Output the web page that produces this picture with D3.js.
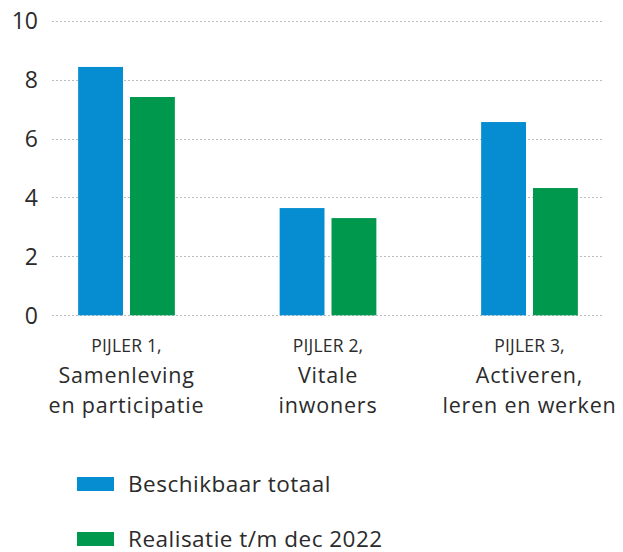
<!DOCTYPE html>
<html>
<head>
<meta charset="utf-8">
<script src="https://cdn.jsdelivr.net/npm/d3@7"></script>
<style>
  body { margin: 0; background: #fff; }
  svg text { font-family: "Open Sans", "Lato", sans-serif; fill: #2b2b2b; }
</style>
</head>
<body>
<div id="chart"></div>
<script>
const categories = ["PIJLER 1", "PIJLER 2", "PIJLER 3"];
const catLabels = [
  ["PIJLER 1,", "Samenleving", "en participatie"],
  ["PIJLER 2,", "Vitale", "inwoners"],
  ["PIJLER 3,", "Activeren,", "leren en werken"]
];
const seriesNames = ["Beschikbaar totaal", "Realisatie t/m dec 2022"];
const beschikbaar = [8.43, 3.64, 6.56];
const realisatie = [7.41, 3.30, 4.32];
const yTicks = [0, 2, 4, 6, 8, 10];
const colors = ["#068dd1", "#00984c"];

const svg = d3.select("#chart")
  .append("svg")
  .attr("width", 623)
  .attr("height", 552);

const y = d3.scaleLinear()
  .domain([0, 10])
  .range([315.3, 20.7]);

const x0 = d3.scaleBand()
  .domain(categories)
  .range([25.75, 630.25])
  .paddingInner(0.52)
  .paddingOuter(0.26);

const x1 = d3.scaleBand()
  .domain(seriesNames)
  .range([0, x0.bandwidth()])
  .paddingInner(0.135);

// Gridlines
svg.append("g")
  .selectAll("line")
  .data(yTicks)
  .enter()
  .append("line")
  .attr("x1", 52)
  .attr("x2", 602)
  .attr("y1", d => Math.round(y(d)) + 0.5)
  .attr("y2", d => Math.round(y(d)) + 0.5)
  .attr("stroke", "#b8bcc2")
  .attr("stroke-width", 1)
  .attr("stroke-dasharray", "2,2");

// Y labels
svg.append("g")
  .selectAll("text")
  .data(yTicks)
  .enter()
  .append("text")
  .attr("x", 38)
  .attr("y", d => y(d) + 8.5)
  .attr("text-anchor", "end")
  .attr("font-size", "23px")
  .text(d => d);

// Bars
const data = categories.map((c, i) => ({ cat: c, values: [beschikbaar[i], realisatie[i]] }));

const groups = svg.append("g")
  .selectAll("g")
  .data(data)
  .enter()
  .append("g")
  .attr("transform", d => `translate(${x0(d.cat)},0)`);

groups.selectAll("rect")
  .data(d => d.values.map((v, j) => ({ key: seriesNames[j], value: v, idx: j })))
  .enter()
  .append("rect")
  .attr("x", d => x1(d.key))
  .attr("y", d => y(d.value))
  .attr("width", x1.bandwidth())
  .attr("height", d => y(0) - y(d.value))
  .attr("fill", d => colors[d.idx]);

// Category labels (three lines each)
const catText = svg.append("g")
  .selectAll("g")
  .data(categories)
  .enter()
  .append("g")
  .attr("transform", d => `translate(${x0(d) + x0.bandwidth() / 2},0)`);

catText.each(function(d, i) {
  const g = d3.select(this);
  g.append("text").attr("text-anchor", "middle").attr("y", 352).attr("font-size", "17.5px")
    .attr("letter-spacing", "0.2px").text(catLabels[i][0]);
  g.append("text").attr("text-anchor", "middle").attr("y", 383).attr("font-size", "21.5px")
    .attr("letter-spacing", "0.8px").text(catLabels[i][1]);
  g.append("text").attr("text-anchor", "middle").attr("y", 413).attr("font-size", "21.5px")
    .attr("letter-spacing", "0.8px").text(catLabels[i][2]);
});

// Legend
const legend = svg.append("g")
  .selectAll("g")
  .data(seriesNames)
  .enter()
  .append("g")
  .attr("transform", (d, i) => `translate(77,${477 + i * 55})`);

legend.append("rect")
  .attr("width", 37)
  .attr("height", 14)
  .attr("fill", (d, i) => colors[i]);

legend.append("text")
  .attr("x", 51)
  .attr("y", 14.5)
  .attr("font-size", "22.5px")
  .attr("letter-spacing", "0.5px")
  .text(d => d);
</script>
</body>
</html>
